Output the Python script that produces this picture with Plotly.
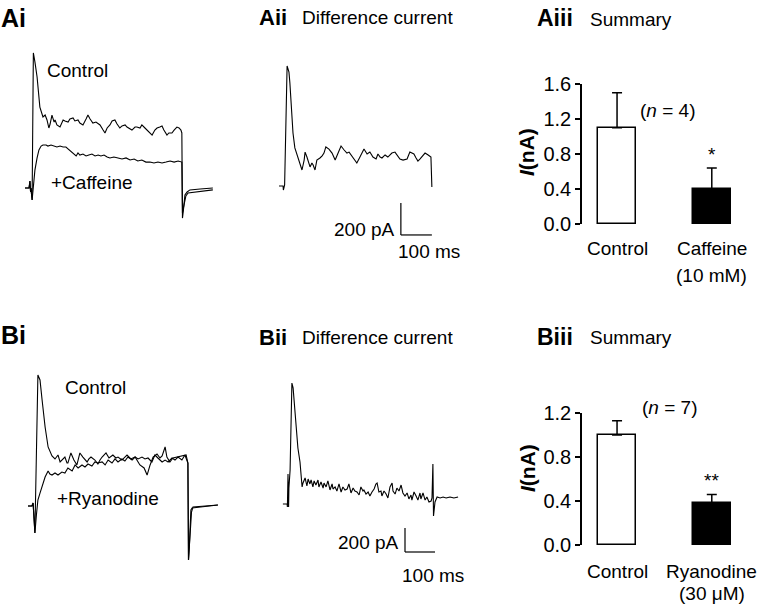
import plotly.graph_objects as go

W, H = 769, 605
FONT = "Arial, Liberation Sans, sans-serif"

# ---------------- DATA ----------------
# Ai: whole-cell currents, time (ms) vs current (pA)
ai_ctrl_t = [-21, -8, -5, -3, -2, 2, 6, 11, 18, 27, 37, 44, 50, 56, 60, 66, 73, 76, 82, 92, 98, 102, 108, 118,
             124, 134, 140, 150, 156, 166, 176, 182, 189, 198, 208, 221, 231, 237, 244, 253, 260, 269, 276, 285,
             292, 302, 308, 318, 324, 334, 340, 350, 356, 366, 373, 382, 389, 398, 405, 414, 421, 427, 437, 443,
             453, 460, 469, 476, 482, 485, 487, 490, 495, 502, 511, 544, 585]
ai_ctrl_i = [0, 0, 44, -25, 0, -75, 844, 788, 694, 506, 444, 456, 425, 375, 400, 456, 412, 425, 394, 381, 412, 425,
             419, 412, 431, 438, 419, 425, 406, 394, 431, 456, 431, 406, 412, 394, 362, 344, 375, 394, 419, 425,
             400, 375, 388, 394, 381, 369, 362, 381, 381, 375, 394, 375, 362, 344, 331, 362, 375, 381, 388, 362,
             331, 344, 344, 362, 381, 375, 362, 344, -188, -138, -44, -25, -12, -6, 0]
ai_caff_t = [-21, -8, -5, -3, -2, 2, 5, 11, 18, 24, 31, 37, 47, 53, 63, 73, 82, 92, 102, 111, 118, 124, 131, 137,
             144, 150, 156, 166, 176, 185, 195, 205, 215, 224, 234, 244, 253, 266, 279, 292, 305, 318, 331, 343,
             356, 369, 382, 395, 408, 421, 434, 447, 460, 473, 485, 487, 492, 498, 505, 527, 560, 585]
ai_caff_i = [0, 0, 44, -25, 0, -75, -12, 112, 188, 238, 262, 269, 269, 262, 269, 262, 256, 262, 256, 256, 244, 238,
             225, 212, 200, 219, 206, 212, 200, 206, 212, 200, 206, 200, 206, 194, 188, 194, 188, 181, 188, 175,
             181, 169, 175, 162, 162, 156, 162, 156, 162, 169, 162, 169, 162, -156, -106, -50, -31, -25, -19, -12]

# Aii: difference current (ms, pA)
aii_t = [-16, -3, -2, 2, 10, 16, 19, 23, 26, 29, 35, 42, 48, 52, 58, 65, 68, 74, 81, 84, 90, 94, 100, 106, 116,
         123, 129, 135, 145, 155, 165, 174, 184, 194, 203, 210, 216, 223, 229, 235, 245, 252, 258, 268, 277, 287,
         297, 303, 310, 316, 326, 335, 342, 348, 358, 368, 374, 384, 397, 406, 413, 419, 426, 432, 439, 445, 455,
         465, 474, 477]
aii_i = [0, 0, -25, 6, 750, 712, 644, 538, 431, 331, 238, 194, 162, 131, 100, 162, 212, 181, 138, 119, 144, 131,
         100, 162, 175, 188, 206, 244, 231, 206, 162, 206, 250, 225, 206, 212, 194, 175, 162, 144, 181, 206, 231,
         200, 212, 181, 169, 200, 181, 175, 194, 181, 194, 206, 212, 188, 169, 162, 169, 212, 206, 200, 175, 156,
         169, 181, 206, 194, 181, -6]

# Bi: whole-cell currents (ms, pA)
bi_ctrl_t = [-20, -7, -3, -2, 3, 13, 20, 27, 37, 47, 60, 70, 80, 87, 93, 103, 110, 113, 123, 130, 133, 143, 153,
             163, 170, 177, 183, 190, 203, 213, 220, 227, 240, 250, 263, 273, 280, 293, 303, 310, 323, 337, 347,
             353, 367, 377, 387, 397, 410, 420, 427, 437, 443, 453, 463, 477, 493, 507, 513, 515, 518, 523, 527,
             553, 613]
bi_ctrl_i = [0, 0, 25, -33, -225, 1092, 1050, 883, 658, 492, 417, 392, 425, 367, 383, 408, 358, 358, 442, 400, 383,
             342, 442, 408, 383, 367, 392, 408, 383, 350, 383, 408, 442, 400, 425, 400, 408, 383, 408, 425, 392,
             408, 367, 342, 317, 258, 342, 408, 433, 400, 417, 492, 408, 367, 400, 408, 417, 425, 358, -450, -325,
             -33, -17, -8, 8]
bi_ryan_t = [-20, -7, -3, -2, 3, 8, 13, 20, 27, 37, 47, 53, 60, 70, 80, 93, 103, 113, 127, 137, 147, 160, 170, 180,
             193, 203, 213, 227, 237, 247, 260, 270, 280, 293, 303, 313, 327, 337, 347, 360, 370, 380, 393, 403,
             413, 427, 437, 447, 460, 470, 480, 493, 503, 513, 515, 520, 525, 530, 570, 613]
bi_ryan_i = [0, 0, 25, -33, -225, -75, 50, 108, 158, 242, 292, 267, 258, 275, 258, 283, 275, 317, 292, 342, 317,
             342, 325, 350, 333, 367, 358, 367, 342, 383, 358, 392, 367, 392, 375, 408, 383, 408, 392, 408, 392,
             400, 367, 425, 400, 367, 383, 367, 400, 383, 408, 383, 425, 358, -450, -283, -50, -8, 0, 8]

# Bii: difference current (ms, pA)
bii_t = [-17, -3, -2, 0, 2, 3, 7, 13, 17, 23, 30, 33, 40, 43, 47, 50, 57, 63, 67, 73, 77, 83, 87, 93, 100, 103,
         110, 117, 120, 127, 133, 140, 147, 150, 157, 163, 170, 177, 183, 190, 197, 203, 210, 217, 223, 230, 237,
         243, 250, 253, 260, 267, 273, 280, 287, 293, 297, 303, 310, 313, 320, 327, 333, 340, 347, 350, 357, 363,
         370, 377, 383, 390, 397, 403, 410, 413, 420, 427, 433, 440, 443, 450, 457, 463, 470, 477, 480, 483, 485,
         490, 497, 507, 517, 527, 540, 553, 567]
bii_i = [0, 0, -25, 250, -25, 133, 283, 1008, 967, 783, 558, 467, 350, 283, 142, 175, 217, 150, 208, 167, 200, 142,
         192, 158, 200, 142, 183, 133, 175, 142, 192, 117, 167, 125, 142, 108, 167, 100, 142, 117, 125, 167, 92,
         133, 108, 100, 75, 142, 108, 117, 83, 100, 67, 100, 125, 167, 175, 100, 108, 67, 108, 83, 50, 142, 175,
         108, 83, 133, 108, 158, 92, 67, 92, 42, 75, 33, 100, 67, 33, 92, 42, 92, 33, 58, 17, 25, 50, 333, -100,
         17, 58, 50, 58, 50, 58, 50, 58]

# Summary bars (nA)
a_categories = ["Control", "Caffeine"]
a_conditions = ["", "(10 mM)"]
a_means = [1.1, 0.4]
a_errors = [0.4, 0.24]
a_n = 4
b_categories = ["Control", "Ryanodine"]
b_conditions = ["", "(30 \u03bcM)"]
b_means = [1.0, 0.38]
b_errors = [0.13, 0.08]
b_n = 7
a_ticks = [0.0, 0.4, 0.8, 1.2, 1.6]
b_ticks = [0.0, 0.4, 0.8, 1.2]
SCALE_T = 100   # ms
SCALE_I = 200   # pA

# ---------------- LAYOUT HELPERS ----------------
def fx(px):
    return px / W

def fy(py):
    return 1 - py / H


def trace_axes(left, right, top, bottom, x0, ms_per_px, y0, pa_per_px):
    xa = dict(domain=[fx(left), fx(right)],
              range=[(left - x0) * ms_per_px, (right - x0) * ms_per_px],
              showline=False, showgrid=False, zeroline=False, showticklabels=False, ticks="",
              fixedrange=True, automargin=False)
    ya = dict(domain=[fy(bottom), fy(top)],
              range=[(y0 - bottom) * pa_per_px, (y0 - top) * pa_per_px],
              showline=False, showgrid=False, zeroline=False, showticklabels=False, ticks="",
              fixedrange=True, automargin=False)
    return xa, ya


line_style = dict(color="black", width=1.1)
fig = go.Figure()

fig.add_trace(go.Scatter(x=ai_ctrl_t, y=ai_ctrl_i, mode="lines", line=line_style, xaxis="x", yaxis="y"))
fig.add_trace(go.Scatter(x=ai_caff_t, y=ai_caff_i, mode="lines", line=line_style, xaxis="x", yaxis="y"))
fig.add_trace(go.Scatter(x=aii_t, y=aii_i, mode="lines", line=line_style, xaxis="x2", yaxis="y2"))
fig.add_trace(go.Scatter(x=bi_ctrl_t, y=bi_ctrl_i, mode="lines", line=line_style, xaxis="x3", yaxis="y3"))
fig.add_trace(go.Scatter(x=bi_ryan_t, y=bi_ryan_i, mode="lines", line=line_style, xaxis="x3", yaxis="y3"))
fig.add_trace(go.Scatter(x=bii_t, y=bii_i, mode="lines", line=line_style, xaxis="x4", yaxis="y4"))

bar_x = [0, 1]
for means, errs, xa, ya in [(a_means, a_errors, "x5", "y5"), (b_means, b_errors, "x6", "y6")]:
    fig.add_trace(go.Bar(
        x=bar_x, y=means, width=0.4, xaxis=xa, yaxis=ya,
        marker=dict(color=["white", "black"], line=dict(color="black", width=1.5)),
        error_y=dict(type="data", symmetric=False, array=errs, arrayminus=[0, 0],
                     color="black", thickness=1.5, width=5),
    ))

ax1x, ax1y = trace_axes(15, 225, 35, 235, 31.5, 1 / 0.31, 188, 1 / 0.16)
ax2x, ax2y = trace_axes(270, 450, 45, 245, 284, 1 / 0.31, 186, 1 / 0.16)
ax3x, ax3y = trace_axes(15, 230, 355, 575, 34, 1 / 0.30, 506, 1 / 0.12)
ax4x, ax4y = trace_axes(270, 470, 365, 565, 288, 1 / 0.30, 504, 1 / 0.12)
for d, a in [(ax1x, "y"), (ax2x, "y2"), (ax3x, "y3"), (ax4x, "y4")]:
    d["anchor"] = a
for d, a in [(ax1y, "x"), (ax2y, "x2"), (ax3y, "x3"), (ax4y, "x4")]:
    d["anchor"] = a


def bar_axes(top, bottom, ymax, ticks, anchor_x, anchor_y):
    xa = dict(domain=[fx(582), fx(762)], range=[-0.37, 1.53], anchor=anchor_y,
              showline=False, showgrid=False, zeroline=False, showticklabels=False, ticks="",
              fixedrange=True, automargin=False)
    ya = dict(domain=[fy(bottom), fy(top)], range=[0, ymax], anchor=anchor_x,
              showline=True, linecolor="black", linewidth=1.5, showgrid=False, zeroline=False,
              ticks="outside", ticklen=5, tickwidth=1.5, tickcolor="black",
              tickvals=ticks, tickformat=".1f", automargin=False,
              tickfont=dict(family=FONT, size=20, color="black"), fixedrange=True)
    return xa, ya


ax5x, ax5y = bar_axes(84, 224, 1.6, a_ticks, "x5", "y5")
ax6x, ax6y = bar_axes(413, 545, 1.2, b_ticks, "x6", "y6")

fig.update_layout(
    width=W, height=H, margin=dict(l=0, r=0, t=0, b=0, pad=0, autoexpand=False), autosize=False,
    paper_bgcolor="white", plot_bgcolor="rgba(0,0,0,0)", showlegend=False,
    font=dict(family=FONT, size=19, color="black"),
    xaxis=ax1x, yaxis=ax1y, xaxis2=ax2x, yaxis2=ax2y, xaxis3=ax3x, yaxis3=ax3y,
    xaxis4=ax4x, yaxis4=ax4y, xaxis5=ax5x, yaxis5=ax5y, xaxis6=ax6x, yaxis6=ax6y,
    bargap=0,
)

# Scale bars (in data units of the difference-current axes)
for xa, ya, t0, i0 in [("x2", "y2", 377, -106), ("x4", "y4", 390, -200)]:
    fig.add_shape(type="line", xref=xa, yref=ya, x0=t0, x1=t0, y0=i0, y1=i0 - SCALE_I,
                  line=dict(color="black", width=1.2))
    fig.add_shape(type="line", xref=xa, yref=ya, x0=t0, x1=t0 + SCALE_T, y0=i0 - SCALE_I, y1=i0 - SCALE_I,
                  line=dict(color="black", width=1.2))


def txt(text, x, y, size=19, xanchor="center", bold=False, angle=0):
    if bold:
        text = "<b>" + text + "</b>"
    fig.add_annotation(text=text, x=fx(x), y=fy(y), xref="paper", yref="paper",
                       xanchor=xanchor, yanchor="middle", showarrow=False, textangle=angle,
                       font=dict(family=FONT, size=size, color="black"), borderpad=0)


# Panel labels
txt("Ai", 0, 18, 25, "left", True)
txt("Aii", 258, 18, 22, "left", True)
txt("Difference current", 301, 18, 19, "left")
txt("Aiii", 536, 18, 23, "left", True)
txt("Summary", 589, 19, 19, "left")
txt("Bi", 0, 335, 25, "left", True)
txt("Bii", 258, 337, 22, "left", True)
txt("Difference current", 301, 337, 19, "left")
txt("Biii", 536, 337, 23, "left", True)
txt("Summary", 589, 337, 19, "left")

# Trace labels
txt("Control", 77, 70)
txt("+Caffeine", 92, 182)
txt("Control", 95, 387)
txt("+Ryanodine", 108, 498)

# Scale bar labels
txt(f"{SCALE_I} pA", 396, 229, 19, "right")
txt(f"{SCALE_T} ms", 429, 251)
txt(f"{SCALE_I} pA", 400, 542, 19, "right")
txt(f"{SCALE_T} ms", 433, 575)

# Summary annotations
txt("<b><i>I</i>(nA)</b>", 527, 152, 21, angle=-90)
txt("<b><i>I</i>(nA)</b>", 527, 468, 21, angle=-90)
txt(f"(<i>n</i> = {a_n})", 667, 110)
txt(f"(<i>n</i> = {b_n})", 669, 408)

for cats, conds, xa, y1, y2 in [(a_categories, a_conditions, "x5", 248, 275),
                                (b_categories, b_conditions, "x6", 571, 593)]:
    for k, (c, cond) in enumerate(zip(cats, conds)):
        fig.add_annotation(text=c, x=bar_x[k], xref=xa, y=fy(y1), yref="paper", showarrow=False,
                           xanchor="center", yanchor="middle", font=dict(family=FONT, size=19, color="black"))
        if cond:
            fig.add_annotation(text=cond, x=bar_x[k], xref=xa, y=fy(y2), yref="paper", showarrow=False,
                               xanchor="center", yanchor="middle", font=dict(family=FONT, size=19, color="black"))

# significance stars above treated bars
fig.add_annotation(text="*", x=bar_x[1], xref="x5", y=a_means[1] + a_errors[1], yref="y5", yshift=14,
                   showarrow=False, font=dict(family=FONT, size=19, color="black"))
fig.add_annotation(text="**", x=bar_x[1], xref="x6", y=b_means[1] + b_errors[1], yref="y6", yshift=14,
                   showarrow=False, font=dict(family=FONT, size=19, color="black"))

fig.write_html("out.html", config={"displayModeBar": False},
               post_script="document.body.style.margin='0';document.body.style.overflow='hidden';")
